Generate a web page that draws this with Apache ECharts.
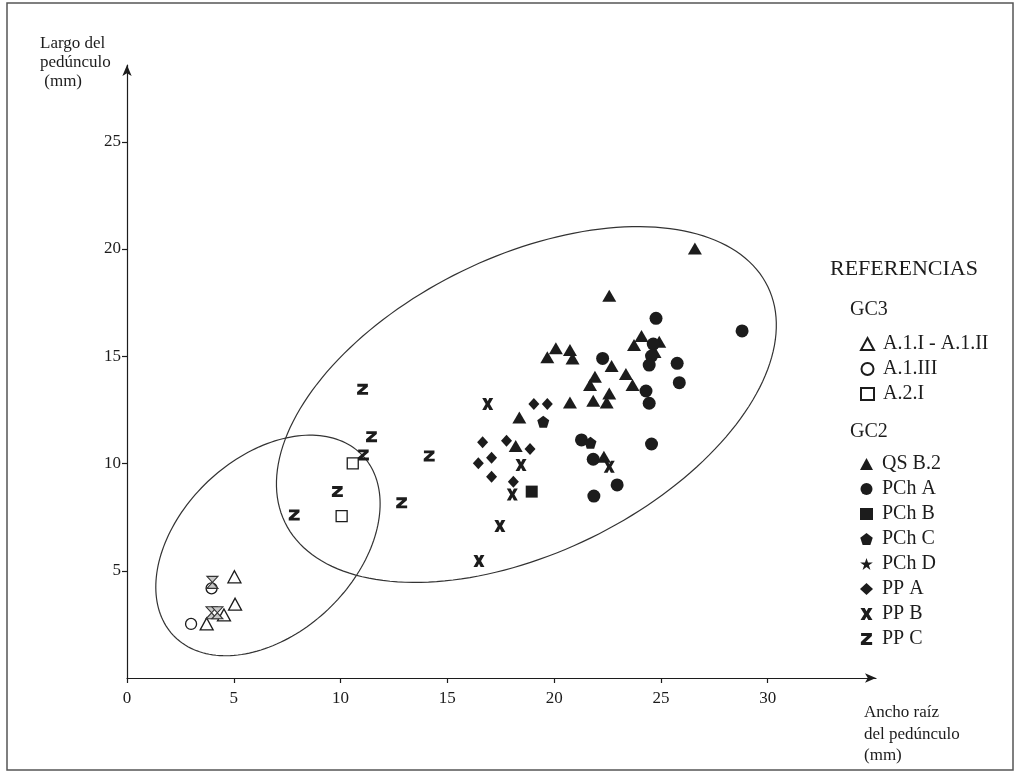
<!DOCTYPE html>
<html>
<head>
<meta charset="utf-8">
<script src="https://cdn.jsdelivr.net/npm/echarts@6/dist/echarts.min.js"></script>
<style>
  html, body { margin: 0; padding: 0; background: #fff; }
  #chart { width: 1019px; height: 774px; }
</style>
</head>
<body>
<div id="chart"></div>
<script>
// ticks
const xTicks = [0, 5, 10, 15, 20, 25, 30];
const yTicks = [5, 10, 15, 20, 25];

// GC3
const a1iData = [[5.03, 4.72], [5.06, 3.44], [4.54, 2.94], [3.73, 2.52]];
const a1iiiData = [[3.0, 2.52], [3.96, 4.18]];
const a2iData = [[10.57, 10.01], [10.05, 7.55]];
// overlapped marks near x=4 (drawn as hourglass)
const overlapData = [[4.0, 4.46], [3.96, 3.04], [4.23, 3.04]];

// GC2
const qsb2Data = [
  [26.59, 20.03], [22.58, 17.82], [20.08, 15.37], [20.74, 15.29], [19.68, 14.95],
  [20.86, 14.9], [24.09, 15.94], [23.74, 15.52], [24.92, 15.68], [24.7, 15.2],
  [22.69, 14.55], [21.91, 14.05], [21.68, 13.66], [23.36, 14.17], [23.67, 13.66],
  [22.58, 13.27], [21.83, 12.93], [22.46, 12.84], [20.74, 12.84], [18.37, 12.14],
  [18.2, 10.82], [22.33, 10.32]
];
const pchAData = [
  [28.8, 16.18], [24.77, 16.77], [22.27, 14.9], [24.64, 15.57], [24.56, 15.01],
  [24.45, 14.59], [25.76, 14.67], [25.86, 13.77], [24.3, 13.38], [24.45, 12.81],
  [24.56, 10.91], [21.28, 11.1], [21.83, 10.2], [22.95, 9.0], [21.86, 8.48]
];
const pchBData = [[18.95, 8.69]];
const pchCData = [[19.49, 11.95], [21.7, 10.97]];
const pchDData = [];
const ppAData = [
  [19.05, 12.77], [19.68, 12.77], [16.65, 10.99], [17.77, 11.06], [18.87, 10.68],
  [17.07, 10.27], [16.45, 10.01], [17.07, 9.38], [18.09, 9.15]
];
const ppBData = [[16.89, 12.77], [18.45, 9.93], [18.04, 8.56], [17.46, 7.09], [16.48, 5.45], [22.58, 9.85]];
const ppCData = [[11.03, 13.46], [11.45, 11.25], [11.07, 10.4], [14.15, 10.35], [9.85, 8.69], [12.86, 8.17], [7.83, 7.6]];

// ellipses: center x, center y, semi-major, semi-minor, angle (deg)
const ellipses = [[18.7, 12.75, 12.57, 6.91, 25.9], [6.6, 6.18, 6.1, 4.1, 43.4]];

const gc3Names = ["A.1.I - A.1.II", "A.1.III", "A.2.I"];
const gc2Names = ["QS B.2", "PCh A", "PCh B", "PCh C", "PCh D", "PP A", "PP B", "PP C"];

const SERIF = "Liberation Serif, Times New Roman, serif";
const INK = "#1c1c1c";

const PATH_X = "path://M0,0L3.5,0L5,2.7L6.5,0L10,0L6.9,5L10,10L6.5,10L5,7.3L3.5,10L0,10L3.1,5Z";
const PATH_Z = "path://M0.5,0L9.5,0L9.5,2.6L4.3,7.4L9.7,7.4L9.7,10L0.3,10L0.3,7.4L5.5,2.6L0.5,2.6Z";
const PATH_PENT = "path://M5,0L10,3.7L8.1,9.6L1.9,9.6L0,3.7Z";
const PATH_STAR = "path://M5,0L6.2,3.6L10,3.6L6.9,5.8L8.1,9.5L5,7.2L1.9,9.5L3.1,5.8L0,3.6L3.8,3.6Z";
const PATH_GLASS = "path://M0,0L10,0L0,10L10,10Z";

function solid(name, data, symbol, size) {
  return {
    name: name, type: "scatter", data: data, symbol: symbol, symbolSize: size,
    itemStyle: { color: INK, opacity: 1 }, z: 3
  };
}
function hollow(name, data, symbol, size) {
  return {
    name: name, type: "scatter", data: data, symbol: symbol, symbolSize: size,
    itemStyle: { color: "#fff", borderColor: INK, borderWidth: 1.3, opacity: 1 }, z: 3
  };
}

const chart = echarts.init(document.getElementById("chart"));

const legendBase = {
  orient: "vertical",
  left: 855,
  itemWidth: 13,
  itemHeight: 12,
  itemGap: 5,
  selectedMode: false,
  textStyle: { fontFamily: SERIF, fontSize: 20, color: INK, lineHeight: 20, padding: [0, 0, 0, 4] }
};

const option = {
  backgroundColor: "#fff",
  animation: false,
  grid: { left: 127, top: 65, right: 143, bottom: 96 },
  xAxis: {
    type: "value", min: 0, max: 35.07, interval: 5,
    axisLine: { show: true, symbol: ["none", "arrow"], symbolSize: [7, 11], lineStyle: { color: INK, width: 1.2 } },
    axisTick: { show: true, length: 5, customValues: xTicks, lineStyle: { color: INK, width: 1.2 } },
    axisLabel: {
      customValues: xTicks, margin: 12, fontFamily: SERIF, fontSize: 17, color: INK,
      formatter: function (v) { return v > 30 ? "" : String(v); }
    },
    splitLine: { show: false }
  },
  yAxis: {
    type: "value", min: 0, max: 28.58, interval: 5,
    axisLine: { show: true, symbol: ["none", "arrow"], symbolSize: [7, 11], lineStyle: { color: INK, width: 1.2 } },
    axisTick: { show: true, length: 5, customValues: yTicks, lineStyle: { color: INK, width: 1.2 } },
    axisLabel: {
      customValues: yTicks, margin: 6, fontFamily: SERIF, fontSize: 17, color: INK,
      formatter: function (v) { return v === 0 || v > 25 ? "" : String(v); }
    },
    splitLine: { show: false }
  },
  legend: [
    Object.assign({}, legendBase, { top: 329, data: gc3Names }),
    Object.assign({}, legendBase, { top: 449, data: gc2Names })
  ],
  graphic: [
    { type: "rect", shape: { x: 7, y: 3, width: 1006, height: 767 }, style: { fill: "none", stroke: "#555", lineWidth: 1.5 }, silent: true },
    { type: "text", left: 40, top: 34, style: { text: "Largo del\npedúnculo\n (mm)", font: "17px " + SERIF, fill: INK, lineHeight: 19 } },
    { type: "text", left: 864, top: 702, style: { text: "Ancho raíz\ndel pedúnculo\n(mm)", font: "17px " + SERIF, fill: INK, lineHeight: 21.5 } },
    { type: "text", left: 830, top: 258, style: { text: "REFERENCIAS", font: "22px " + SERIF, fill: INK } },
    { type: "text", left: 850, top: 300, style: { text: "GC3", font: "20px " + SERIF, fill: INK } },
    { type: "text", left: 850, top: 422, style: { text: "GC2", font: "20px " + SERIF, fill: INK } }
  ],
  series: [
    {
      type: "custom", silent: true, clip: false, z: 1, data: ellipses,
      renderItem: function (params, api) {
        const cx = api.value(0), cy = api.value(1), a = api.value(2), b = api.value(3);
        const t0 = api.value(4) * Math.PI / 180;
        const pts = [];
        for (let i = 0; i < 180; i++) {
          const t = i / 180 * Math.PI * 2;
          const dx = a * Math.cos(t), dy = b * Math.sin(t);
          pts.push(api.coord([cx + dx * Math.cos(t0) - dy * Math.sin(t0), cy + dx * Math.sin(t0) + dy * Math.cos(t0)]));
        }
        return { type: "polygon", shape: { points: pts }, style: { fill: "none", stroke: "#333", lineWidth: 1.2 } };
      }
    },
    hollow("A.1.I - A.1.II", a1iData, "triangle", [13, 12]),
    hollow("A.1.III", a1iiiData, "circle", 11),
    hollow("A.2.I", a2iData, "rect", 11),
    {
      name: "overlap", type: "scatter", data: overlapData, symbol: PATH_GLASS, symbolSize: [11, 12],
      itemStyle: { color: "#c8c8c8", borderColor: "#333", borderWidth: 1.1, opacity: 1 }, z: 4
    },
    solid("QS B.2", qsb2Data, "triangle", [14, 12]),
    solid("PCh A", pchAData, "circle", 13),
    solid("PCh B", pchBData, "rect", 12),
    solid("PCh C", pchCData, PATH_PENT, 12),
    solid("PCh D", pchDData, PATH_STAR, 12),
    solid("PP A", ppAData, "diamond", [11, 12]),
    solid("PP B", ppBData, PATH_X, [11, 12]),
    solid("PP C", ppCData, PATH_Z, [11, 11])
  ]
};

chart.setOption(option);
window.addEventListener("resize", () => {
  chart.resize();
});
</script>
</body>
</html>
